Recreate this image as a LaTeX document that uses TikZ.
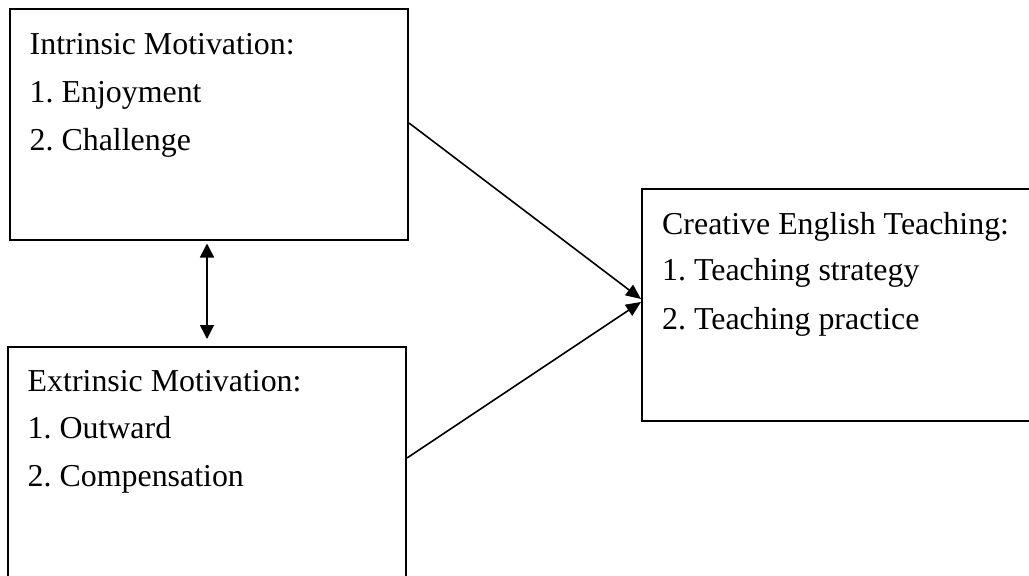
\documentclass[tikz,border=0pt]{standalone}
\usepackage{fontspec}
\setmainfont{Liberation Serif}
\usetikzlibrary{arrows.meta}
\frenchspacing
\begin{document}
\begin{tikzpicture}[x=1pt,y=-1pt,
  box/.style={draw,rectangle,line width=2pt,inner sep=0pt},
  txt/.style={anchor=base west,inner sep=0pt,font=\fontsize{31.9pt}{38pt}\selectfont},
  link/.style={line width=1.6pt,-{Triangle[length=15pt,width=13pt]}},
  dbl/.style={line width=1.6pt,{Triangle[length=14pt,width=14pt]}-{Triangle[length=14pt,width=14pt]}}]
\useasboundingbox (0,0) rectangle (1029,576);
\clip (0,0) rectangle (1029,576);
\node[box,minimum width=398pt,minimum height=231pt] (b1) at (209,124.5) {};
\node[box,minimum width=398pt,minimum height=260pt] (b2) at (207,477) {};
\node[box,minimum width=420pt,minimum height=232pt] (b3) at (852,305) {};
\node[txt] (t11) at ([shift={(20.5,46)}]b1.north west) {Intrinsic Motivation:};
\node[txt] (t12) at ([shift={(20.5,94.3)}]b1.north west) {1. Enjoyment};
\node[txt] (t13) at ([shift={(20.5,142.7)}]b1.north west) {2. Challenge};
\node[txt] (t21) at ([shift={(20.5,45)}]b2.north west) {Extrinsic Motivation:};
\node[txt] (t22) at ([shift={(20.5,92.5)}]b2.north west) {1. Outward};
\node[txt] (t23) at ([shift={(20.5,140.5)}]b2.north west) {2. Compensation};
\node[txt] (t31) at ([shift={(21,46)}]b3.north west) {Creative English Teaching:};
\node[txt] (t32) at ([shift={(21,92.7)}]b3.north west) {1. Teaching strategy};
\node[txt] (t33) at ([shift={(21,141)}]b3.north west) {2. Teaching practice};
\draw[link] ([yshift=1.5pt]b1.east) -- ([yshift=6pt]b3.west);
\draw[link] ([shift={(0,112)}]b2.north east) -- ([yshift=3pt]b3.west);
\draw[dbl] ([shift={(-2,2.5)}]b1.south) -- ([yshift=7pt]b2.north);
\end{tikzpicture}
\end{document}
